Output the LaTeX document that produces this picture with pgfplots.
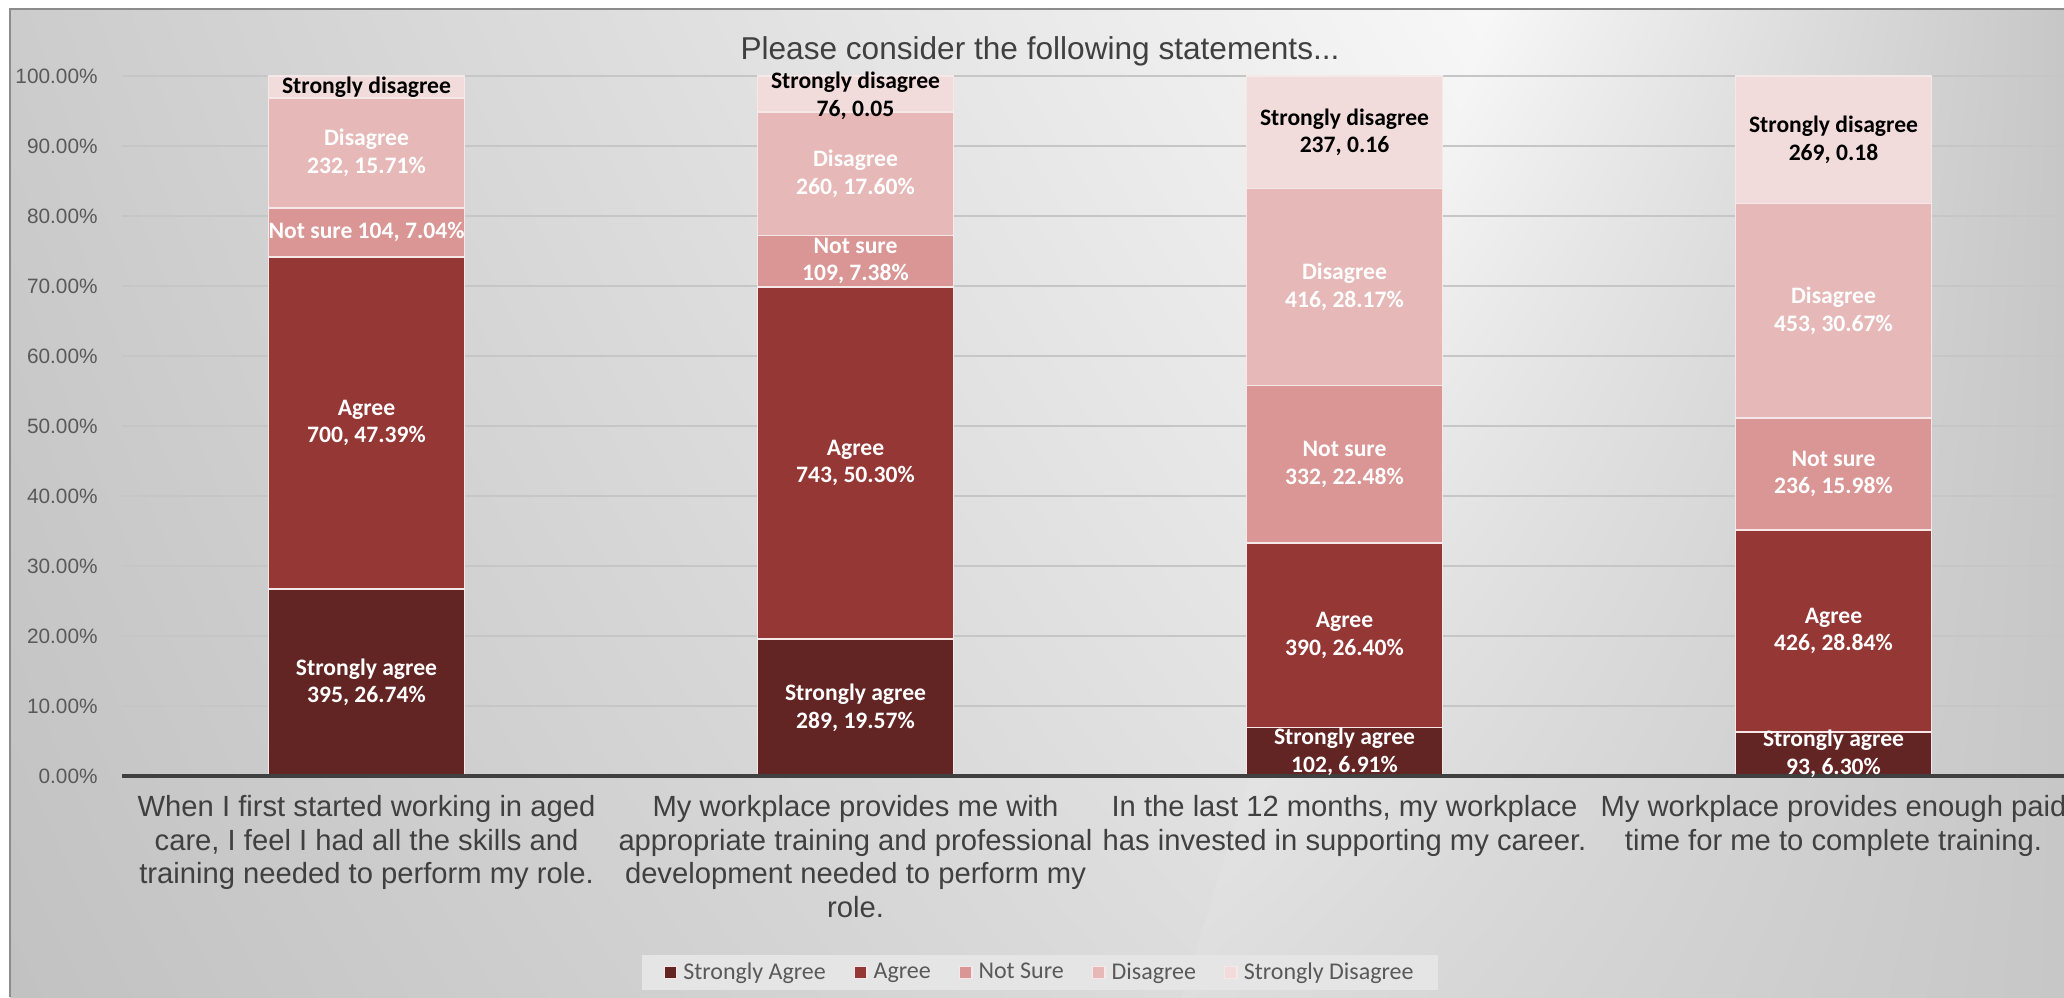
\documentclass[border=0pt]{standalone}
\usepackage{fontspec}
\setmainfont{Liberation Sans}
\newfontfamily\carlito{Carlito}
\usepackage{pgfplots}
\usepackage{pgfplotstable}
\pgfplotsset{compat=1.18}

\definecolor{cSA}{HTML}{632523}
\definecolor{cA}{HTML}{953735}
\definecolor{cNS}{HTML}{D99694}
\definecolor{cD}{HTML}{E6B9B8}
\definecolor{cSD}{HTML}{F2DCDB}
\definecolor{barline}{HTML}{F6E8E8}
\definecolor{txtdark}{HTML}{404040}
\definecolor{txtgray}{HTML}{595959}
\definecolor{gridc}{HTML}{C6C6C6}
\definecolor{legfill}{HTML}{E5E5E5}
\definecolor{framec}{HTML}{8C8C8C}

\pgfdeclarefunctionalshading{bgshade}{\pgfpoint{0bp}{0bp}}{\pgfpoint{100bp}{100bp}}{}{
75 exch sub 50 div
exch 25 sub 50 div
1 index 0.15 mul 0.72 exch sub
2 copy lt
{ div exch dup 0.07 mul 0.17 exch sub 3 -1 roll mul exch 0.04 mul 0.80 exch sub add }
{ dup 1 exch sub 3 1 roll sub exch div exch dup 0.10 mul 0.19 exch sub 3 -1 roll mul exch 0.10 mul 0.97 exch sub exch sub }
ifelse
dup dup
}

\pgfplotstableread{
x SA A NS D SD
0 26.74 47.39 7.04 15.71 3.12
1 19.57 50.30 7.38 17.60 5.15
2 6.91 26.40 22.48 28.17 16.04
3 6.30 28.84 15.98 30.67 18.21
}\datatable

\newcommand\pos[3]{\coordinate (#1) at (axis cs:#2,#3);}
\newcommand\lbl[3]{\node[font=\carlito\bfseries\fontsize{11.8}{13.8}\selectfont, text=#3, align=center, inner sep=0pt] at (#1) {#2};}

\begin{document}
\begin{tikzpicture}
\useasboundingbox (0pt,0pt) rectangle (1032pt,-498.5pt);
\fill[white] (0pt,0pt) rectangle (1032pt,-498.5pt);
\shade[shading=bgshade] (5pt,-4.5pt) rectangle (1032pt,-498.5pt);
\draw[framec, line width=1.2pt] (5pt,-498.5pt) -- (5pt,-4.5pt) -- (1032pt,-4.5pt);
\node[font=\fontsize{15.8}{19}\selectfont, text=txtdark] at (520pt,-25.5pt) {Please consider the following statements...};
\begin{axis}[
  at={(61pt,-388pt)}, anchor=south west,
  scale only axis, width=978pt, height=350pt,
  xmin=-0.5, xmax=3.5, ymin=0, ymax=100,
  ybar stacked, bar width=0.4,
  xtick={0,1,2,3},
  xticklabels={{When I first started working in aged\\care, I feel I had all the skills and\\training needed to perform my role.},
               {My workplace provides me with\\appropriate training and professional\\development needed to perform my\\role.},
               {In the last 12 months, my workplace\\has invested in supporting my career.},
               {My workplace provides enough paid\\time for me to complete training.}},
  ytick={0,10,...,100},
  axis line style={draw=none},
  major tick length=0pt,
  ymajorgrids, grid style={gridc, line width=1pt},
  /pgf/number format/assume math mode=true,
  yticklabel={\pgfmathprintnumber[fixed,fixed zerofill,precision=2]{\tick}\%},
  yticklabel style={font=\fontsize{10.4}{12}\selectfont, text=txtgray, inner sep=0pt, xshift=-12pt, anchor=east},
  xticklabel style={font=\fontsize{14.6}{16.8}\selectfont, text=txtdark, align=center, inner sep=0pt, yshift=-9.5pt, anchor=north},
  legend columns=5,
  legend image code/.code={\fill[#1] (0pt,-3.1pt) rectangle (6.2pt,3.1pt);},
  legend style={at={(0.4691,-0.2807)}, anchor=center, draw=none, fill=legfill,
    font=\carlito\fontsize{12}{14}\selectfont, text=txtgray,
    inner xsep=11pt, inner ysep=3pt,
    nodes={inner sep=1pt},
    /tikz/every odd column/.append style={column sep=2pt},
    /tikz/every even column/.append style={column sep=13pt}},
  clip=false,
]
\addplot[fill=cSA, draw=barline, line width=0.7pt] table[x=x,y=SA]{\datatable};
\addplot[fill=cA, draw=barline, line width=0.7pt] table[x=x,y=A]{\datatable};
\addplot[fill=cNS, draw=barline, line width=0.7pt] table[x=x,y=NS]{\datatable};
\addplot[fill=cD, draw=barline, line width=0.7pt] table[x=x,y=D]{\datatable};
\addplot[fill=cSD, draw=barline, line width=0.7pt] table[x=x,y=SD]{\datatable};
\legend{Strongly Agree, Agree, Not Sure, Disagree, Strongly Disagree}
\pos{b0l}{-0.5}{0}\pos{b0r}{3.5}{0}
\pos{p01}{0}{13.37}\pos{p02}{0}{50.435}\pos{p03}{0}{77.65}\pos{p04}{0}{89.025}\pos{p05}{0}{98.44}
\pos{p11}{1}{9.785}\pos{p12}{1}{44.72}\pos{p13}{1}{73.56}\pos{p14}{1}{86.05}\pos{p15}{1}{97.2}
\pos{p21}{2}{3.45}\pos{p22}{2}{20.11}\pos{p23}{2}{44.55}\pos{p24}{2}{69.875}\pos{p25}{2}{91.98}
\pos{p31}{3}{3.15}\pos{p32}{3}{20.72}\pos{p33}{3}{43.13}\pos{p34}{3}{66.455}\pos{p35}{3}{90.9}
\end{axis}
\draw[txtdark, line width=2pt] (b0l) -- (b0r);
\lbl{p01}{Strongly agree\\395, 26.74\%}{white}
\lbl{p02}{Agree\\700, 47.39\%}{white}
\lbl{p03}{Not sure 104, 7.04\%}{white}
\lbl{p04}{Disagree\\232, 15.71\%}{white}
\lbl{p05}{Strongly disagree}{black}
\lbl{p11}{Strongly agree\\289, 19.57\%}{white}
\lbl{p12}{Agree\\743, 50.30\%}{white}
\lbl{p13}{Not sure\\109, 7.38\%}{white}
\lbl{p14}{Disagree\\260, 17.60\%}{white}
\lbl{p15}{Strongly disagree\\76, 0.05}{black}
\lbl{p21}{Strongly agree\\102, 6.91\%}{white}
\lbl{p22}{Agree\\390, 26.40\%}{white}
\lbl{p23}{Not sure\\332, 22.48\%}{white}
\lbl{p24}{Disagree\\416, 28.17\%}{white}
\lbl{p25}{Strongly disagree\\237, 0.16}{black}
\lbl{p31}{Strongly agree\\93, 6.30\%}{white}
\lbl{p32}{Agree\\426, 28.84\%}{white}
\lbl{p33}{Not sure\\236, 15.98\%}{white}
\lbl{p34}{Disagree\\453, 30.67\%}{white}
\lbl{p35}{Strongly disagree\\269, 0.18}{black}
\end{tikzpicture}
\end{document}
